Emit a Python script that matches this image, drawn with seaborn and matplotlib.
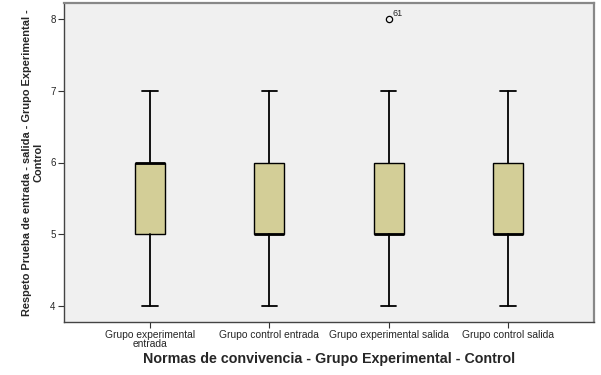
# boxplot: Respeto, normas de convivencia, grupo experimental vs control

import matplotlib
matplotlib.use('Agg')
import matplotlib.pyplot as plt
import seaborn as sns

groups = ['Grupo experimental\nentrada', 'Grupo control entrada',
          'Grupo experimental salida', 'Grupo control salida']
whislo = [4, 4, 4, 4]
q1 = [5, 5, 5, 5]
med = [6, 5, 5, 5]
q3 = [6, 6, 6, 6]
whishi = [7, 7, 7, 7]
fliers = [[], [], [8], []]
flier_ids = [[], [], ['61'], []]
yticks = [4, 5, 6, 7, 8]

sns.set_style('ticks')
plt.rcParams['font.family'] = ['Liberation Sans', 'DejaVu Sans']

stats = []
for i, g in enumerate(groups):
    stats.append({'label': g, 'whislo': whislo[i], 'q1': q1[i], 'med': med[i],
                  'q3': q3[i], 'whishi': whishi[i], 'fliers': fliers[i]})

fig = plt.figure(figsize=(6.01, 3.75), dpi=100)
ax = fig.add_axes([64 / 601, 53 / 375, 530 / 601, 319 / 375])
ax.set_facecolor('#f0f0f0')

pos = list(range(1, len(groups) + 1))
ax.bxp(stats, positions=pos, widths=0.25, patch_artist=True,
       boxprops=dict(facecolor='#d3ce97', edgecolor='black', linewidth=1.0),
       medianprops=dict(color='black', linewidth=2),
       whiskerprops=dict(color='black', linewidth=1.3),
       capprops=dict(color='black', linewidth=1.3),
       capwidths=0.13,
       flierprops=dict(marker='o', markerfacecolor='none', markeredgecolor='black',
                       markersize=4.5, markeredgewidth=0.9))

for i, ids in enumerate(flier_ids):
    for v, lab in zip(fliers[i], ids):
        ax.annotate(lab, (pos[i], v), xytext=(3, 2), textcoords='offset points',
                    fontsize=6.5)

ax.set_xlim(0.28, 4.72)
ax.set_ylim(3.78, 8.22)
ax.set_yticks(yticks)
ax.set_yticklabels([str(t) for t in yticks], fontsize=7)
ax.set_xticks(pos)
ax.set_xticklabels(groups, fontsize=7.4, linespacing=0.85)
ax.tick_params(axis='both', length=4, width=0.8, color='#333333', pad=2)

for s in ax.spines.values():
    s.set_color('#444444')
    s.set_linewidth(1.0)
ax.spines['top'].set_color('#888888')
ax.spines['right'].set_color('#888888')
ax.spines['top'].set_linewidth(1.6)
ax.spines['right'].set_linewidth(1.6)

ax.set_xlabel('Normas de convivencia - Grupo Experimental - Control',
              fontsize=10.3, fontweight='bold', labelpad=2)
ax.set_ylabel('Respeto Prueba de entrada - salida - Grupo Experimental -\nControl',
              fontsize=7.9, fontweight='bold', linespacing=1.15, labelpad=5)

plt.savefig('out.png', dpi=100)
